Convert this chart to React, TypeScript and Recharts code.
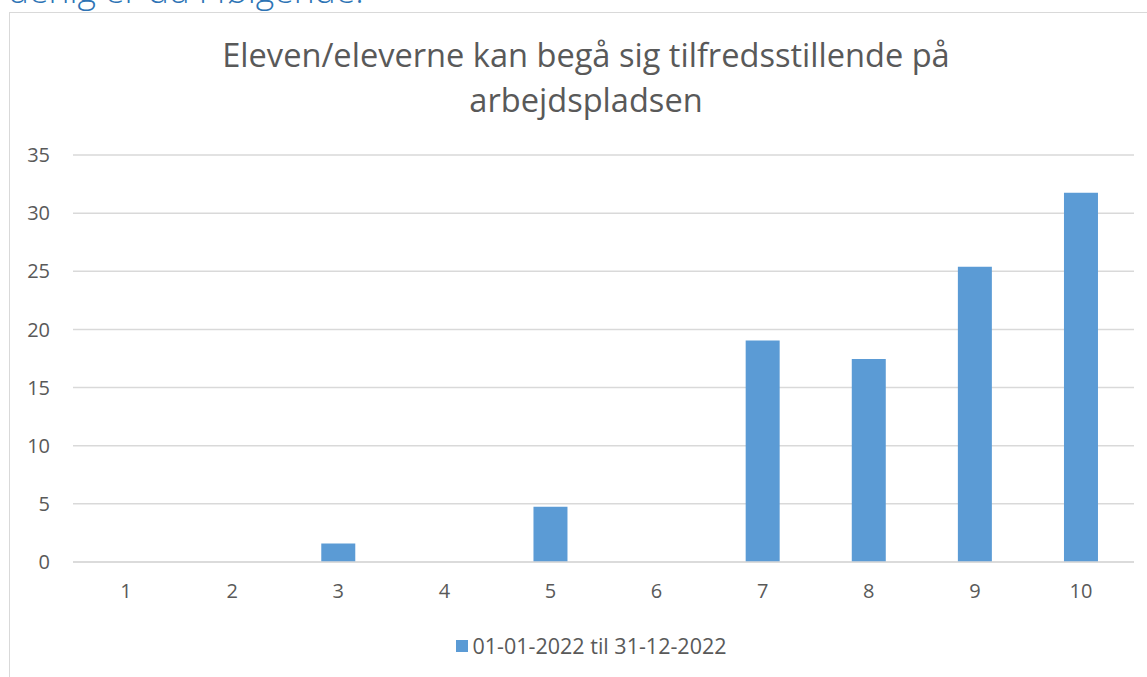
import React from 'react';
import { BarChart, Bar, XAxis, YAxis, CartesianGrid, Legend } from 'recharts';

const categories = ['1', '2', '3', '4', '5', '6', '7', '8', '9', '10'];
const values = [0, 0, 1.59, 0, 4.76, 0, 19.05, 17.46, 25.4, 31.75];
const yTicks = [0, 5, 10, 15, 20, 25, 30, 35];
const seriesName = '01-01-2022 til 31-12-2022';
const titleLines = ['Eleven/eleverne kan begå sig tilfredsstillende på', 'arbejdspladsen'];
const headingText = 'uenig er du i følgende:';

const data = categories.map((c, i) => ({ cat: c, v: values[i] }));

const FONT = '"Open Sans", "Noto Sans", sans-serif';
const TEXT = '#595959';
const BLUE = '#5B9BD5';

const LegendContent = () => (
  <div style={{ display: 'flex', justifyContent: 'center', alignItems: 'center', fontFamily: FONT, fontSize: 21.5, color: TEXT }}>
    <span style={{ display: 'inline-block', width: 12, height: 12, background: BLUE, marginRight: 4 }} />
    <span>{seriesName}</span>
  </div>
);

export default function App() {
  return (
    <div style={{ position: 'fixed', left: 0, top: 0, width: 1147, height: 677, background: '#fff', overflow: 'hidden' }}>
      <svg width={1147} height={20} style={{ position: 'absolute', left: 0, top: 0 }}>
        <text x={8} y={3} fill="#2E74B5" fontFamily={FONT} fontWeight={300} fontSize={35.5}>{headingText}</text>
      </svg>
      <div style={{ position: 'absolute', left: 9, top: 12, width: 1300, height: 800, border: '1px solid #D9D9D9', boxSizing: 'border-box' }} />
      <div style={{ position: 'absolute', left: 0, top: 0 }}>
        <BarChart width={1147} height={677} data={data} margin={{ top: 155, right: 13, bottom: 85, left: 0 }} barCategoryGap="34%">
          <CartesianGrid vertical={false} stroke="#D9D9D9" strokeWidth={1.5} />
          <XAxis dataKey="cat" axisLine={{ stroke: '#D9D9D9', strokeWidth: 1.5 }} tickLine={false} tickSize={0} tickMargin={22}
            tick={{ fill: TEXT, fontSize: 20, fontFamily: FONT }} />
          <YAxis width={73} domain={[0, 35]} ticks={yTicks} axisLine={false} tickLine={false} tickSize={0} tickMargin={23}
            tick={{ fill: TEXT, fontSize: 20, fontFamily: FONT }} />
          <Bar dataKey="v" name={seriesName} fill={BLUE} isAnimationActive={false} />
          <Legend layout="horizontal" verticalAlign="middle" align="center" content={<LegendContent />}
            wrapperStyle={{ top: 631, left: 18, width: 1147 }} />
        </BarChart>
      </div>
      <div style={{ position: 'absolute', left: 186, width: 800, top: 0 }}>
        <svg width={800} height={130} style={{ display: 'block' }}>
          <text x={400} y={67} textAnchor="middle" fill={TEXT} fontFamily={FONT} fontSize={32.6}>{titleLines[0]}</text>
          <text x={400} y={112} textAnchor="middle" fill={TEXT} fontFamily={FONT} fontSize={32.6}>{titleLines[1]}</text>
        </svg>
      </div>
    </div>
  );
}
